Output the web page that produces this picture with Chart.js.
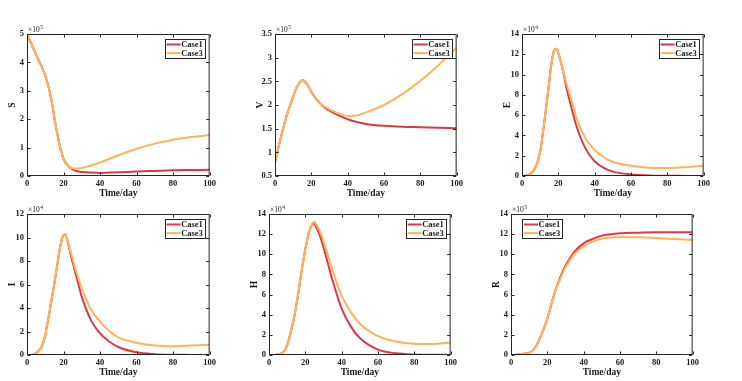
<!DOCTYPE html>
<html><head><meta charset="utf-8">
<script src="https://cdn.jsdelivr.net/npm/chart.js@4.4.1/dist/chart.umd.min.js"></script>
<style>
html,body{margin:0;padding:0;background:#fff;}
body{width:742px;height:381px;position:relative;overflow:hidden;}
canvas{position:absolute;}
</style></head><body>
<script>
// ---- data (values in the axis units shown, i.e. divided by the ×10^n factor) ----
const days = [0,3,6,8,10,12,14,15,16,17,18,19,20,21,22,23,24,25,26,28,30,35,40,45,50,60,70,80,90,100];
const seriesLabels = ['Case1','Case3'];

const S_case1 = [5.0,4.56,4.12,3.86,3.53,3.09,2.45,2.05,1.68,1.35,1.04,0.80,0.60,0.48,0.39,0.33,0.27,0.23,0.20,0.16,0.14,0.12,0.11,0.12,0.13,0.16,0.18,0.20,0.21,0.22];
const S_case3 = [5.0,4.56,4.12,3.86,3.53,3.09,2.45,2.05,1.68,1.35,1.04,0.80,0.60,0.48,0.39,0.33,0.29,0.27,0.26,0.26,0.28,0.37,0.48,0.60,0.73,0.96,1.14,1.28,1.37,1.44];

const V_case1 = [0.78,1.28,1.72,1.96,2.18,2.38,2.50,2.53,2.51,2.47,2.42,2.35,2.28,2.22,2.16,2.11,2.07,2.03,1.99,1.93,1.88,1.78,1.70,1.64,1.60,1.56,1.54,1.53,1.52,1.51];
const V_case3 = [0.78,1.28,1.72,1.96,2.18,2.38,2.50,2.53,2.51,2.47,2.42,2.35,2.28,2.22,2.16,2.11,2.07,2.03,1.99,1.95,1.91,1.82,1.77,1.78,1.84,2.00,2.23,2.51,2.84,3.21];

const E_case1 = [0,0.05,0.45,1.1,2.4,4.9,7.8,9.3,10.8,11.9,12.5,12.55,12.1,11.5,10.8,10.0,9.1,8.3,7.6,6.2,4.9,2.7,1.45,0.8,0.43,0.16,0.05,0.02,0.01,0];
const E_case3 = [0,0.05,0.45,1.1,2.4,4.9,7.8,9.3,10.8,11.9,12.5,12.55,12.1,11.5,10.8,10.1,9.4,8.8,8.2,7.0,5.7,3.7,2.57,1.85,1.38,1.02,0.82,0.78,0.86,1.02];

const I_case1 = [0,0.03,0.3,0.7,1.7,3.4,5.2,6.1,7.1,8.1,9.06,9.8,10.2,10.25,9.8,9.2,8.5,7.9,7.3,6.1,4.95,2.97,1.84,1.15,0.68,0.23,0.07,0.02,0.01,0];
const I_case3 = [0,0.03,0.3,0.7,1.7,3.4,5.2,6.1,7.1,8.1,9.06,9.8,10.2,10.25,9.8,9.3,8.7,8.2,7.6,6.6,5.66,3.9,2.83,2.05,1.5,1.05,0.8,0.74,0.8,0.88];

const H_case1 = [0,0.01,0.1,0.3,0.96,2.28,3.9,4.9,6.0,7.2,8.4,9.5,10.5,11.4,12.2,12.7,13.0,13.05,12.7,11.85,10.7,7.4,4.6,2.84,1.68,0.53,0.17,0.05,0.02,0.01];
const H_case3 = [0,0.01,0.1,0.3,0.96,2.28,3.9,4.9,6.0,7.2,8.4,9.5,10.5,11.4,12.2,12.75,13.1,13.2,12.95,12.3,11.3,8.4,5.9,4.26,3.1,1.88,1.35,1.12,1.09,1.25];

const R_case1 = [0,0.03,0.09,0.15,0.23,0.46,0.95,1.29,1.7,2.15,2.6,3.1,3.6,4.25,4.92,5.55,6.15,6.73,7.2,8.1,8.88,10.27,11.09,11.52,11.85,12.08,12.15,12.18,12.18,12.18];
const R_case3 = [0,0.03,0.09,0.15,0.23,0.46,0.95,1.29,1.7,2.15,2.6,3.1,3.6,4.25,4.9,5.5,6.1,6.68,7.1,7.95,8.72,10.04,10.8,11.26,11.56,11.72,11.69,11.62,11.52,11.42];

const xTicks = [0,20,40,60,80,100];
const S_ticks = [0,1,2,3,4,5];
const V_ticks = [0.5,1,1.5,2,2.5,3,3.5];
const E_ticks = [0,2,4,6,8,10,12,14];
const I_ticks = [0,2,4,6,8,10,12];
const H_ticks = [0,2,4,6,8,10,12,14];
const R_ticks = [0,2,4,6,8,10,12,14];
const yLabels = ['S','V','E','I','H','R'];
const exponents = [5,5,4,4,4,5];

// ---- layout / style ----
const COL1 = '#D93A45', COL3 = '#FFB35A', AXIS = '#262626', TXT = '#1a1a1a';
const SERIF = '"Liberation Serif","Times New Roman",serif';
const panels = [
  {c1:S_case1,c3:S_case3,ticks:S_ticks,plot:[27,34,211,176],leg:'right'},
  {c1:V_case1,c3:V_case3,ticks:V_ticks,plot:[275,34,458,176],leg:'right'},
  {c1:E_case1,c3:E_case3,ticks:E_ticks,plot:[522,34,705,176],leg:'right'},
  {c1:I_case1,c3:I_case3,ticks:I_ticks,plot:[27,214,211,355],leg:'right'},
  {c1:H_case1,c3:H_case3,ticks:H_ticks,plot:[269,214,452,355],leg:'right'},
  {c1:R_case1,c3:R_case3,ticks:R_ticks,plot:[511,214,694,355],leg:'left'}
];
const YW = 27, TOP = 14, RIGHT = 8, XH = 24;

const framePlugin = {
  id:'frameLegend',
  afterDraw(chart, args, o){
    const {ctx, chartArea:a, scales:{x,y}} = chart;
    ctx.save();
    ctx.strokeStyle = AXIS; ctx.lineWidth = 1;
    const L=a.left+0.5, R=a.right-0.5, T=a.top+0.5, B=a.bottom-0.5;
    ctx.strokeRect(L, T, R-L, B-T);
    ctx.beginPath();
    x.ticks.forEach(t=>{const p=Math.round(x.getPixelForValue(t.value))+0.5; ctx.moveTo(p,B); ctx.lineTo(p,B-3); ctx.moveTo(p,T); ctx.lineTo(p,T+3);});
    y.ticks.forEach(t=>{const p=Math.round(y.getPixelForValue(t.value))+0.5; ctx.moveTo(L,p); ctx.lineTo(L+3,p); ctx.moveTo(R,p); ctx.lineTo(R-3,p);});
    ctx.stroke();
    // exponent
    ctx.fillStyle = TXT;
    ctx.textBaseline = 'alphabetic'; ctx.textAlign='left';
    ctx.font = '7.5px '+SERIF;
    const base = '\u00d710';
    ctx.fillText(base, a.left+1, a.top-2);
    const w = ctx.measureText(base).width;
    ctx.font = '5.5px '+SERIF;
    ctx.fillText(String(o.exp), a.left+1+w+0.5, a.top-5.5);
    // legend
    const lw=40, lh=19;
    const lx = o.leg==='right' ? a.right-5-lw : a.left+11;
    const ly = a.top+5;
    ctx.fillStyle='#fff'; ctx.fillRect(lx,ly,lw,lh);
    ctx.strokeStyle=AXIS; ctx.lineWidth=1;
    ctx.strokeRect(Math.round(lx)+0.5, Math.round(ly)+0.5, lw, lh);
    ctx.font = 'bold 8.5px '+SERIF; ctx.textBaseline='middle';
    chart.data.datasets.forEach((ds,i)=>{
      const yy = ly + 5.5 + i*8.6;
      ctx.strokeStyle = ds.borderColor; ctx.lineWidth=2;
      ctx.beginPath(); ctx.moveTo(lx+2,yy); ctx.lineTo(lx+16,yy); ctx.stroke();
      ctx.fillStyle=TXT; ctx.fillText(ds.label, lx+16.5, yy+0.5);
    });
    ctx.restore();
  }
};

panels.forEach((p,i)=>{
  const [pl,pt,pr,pb] = p.plot;
  const cw = (pr-pl)+YW+RIGHT, ch = (pb-pt)+TOP+XH;
  const cv = document.createElement('canvas');
  cv.width = cw; cv.height = ch;
  cv.style.left = (pl-YW)+'px'; cv.style.top = (pt-TOP)+'px';
  cv.style.width = cw+'px'; cv.style.height = ch+'px';
  document.body.appendChild(cv);
  const mk = arr => days.map((d,k)=>({x:d,y:arr[k]}));
  new Chart(cv, {
    type:'line',
    data:{datasets:[
      {label:seriesLabels[0], data:mk(p.c1), borderColor:COL1, borderWidth:2, pointRadius:0, cubicInterpolationMode:'monotone', order:1},
      {label:seriesLabels[1], data:mk(p.c3), borderColor:COL3, borderWidth:2, pointRadius:0, cubicInterpolationMode:'monotone', order:0}
    ]},
    options:{
      responsive:false, devicePixelRatio:1, animation:false,
      layout:{padding:{left:0,top:TOP,right:RIGHT,bottom:0}},
      plugins:{legend:{display:false}, tooltip:{enabled:false}, frameLegend:{exp:exponents[i], leg:p.leg}},
      scales:{
        x:{type:'linear', min:0, max:100,
           afterBuildTicks: s=>{s.ticks = xTicks.map(v=>({value:v}));},
           afterFit: s=>{s.height = XH;},
           grid:{display:false, drawTicks:false}, border:{display:false},
           ticks:{color:TXT, padding:3, maxRotation:0, font:{family:SERIF, size:8.5, weight:'bold'}},
           title:{display:true, text:'Time/day', color:TXT, padding:{top:0,bottom:1}, font:{family:SERIF, size:9.5, weight:'bold'}}},
        y:{type:'linear', min:p.ticks[0], max:p.ticks[p.ticks.length-1],
           afterBuildTicks: s=>{s.ticks = p.ticks.map(v=>({value:v}));},
           afterFit: s=>{s.width = YW;},
           grid:{display:false, drawTicks:false}, border:{display:false},
           ticks:{color:TXT, padding:3, callback:v=>String(v), font:{family:SERIF, size:8.5, weight:'bold'}},
           title:{display:true, text:yLabels[i], color:TXT, padding:{top:7,bottom:0}, font:{family:SERIF, size:9.5, weight:'bold'}}}
      }
    },
    plugins:[framePlugin]
  });
});
</script>
</body></html>
